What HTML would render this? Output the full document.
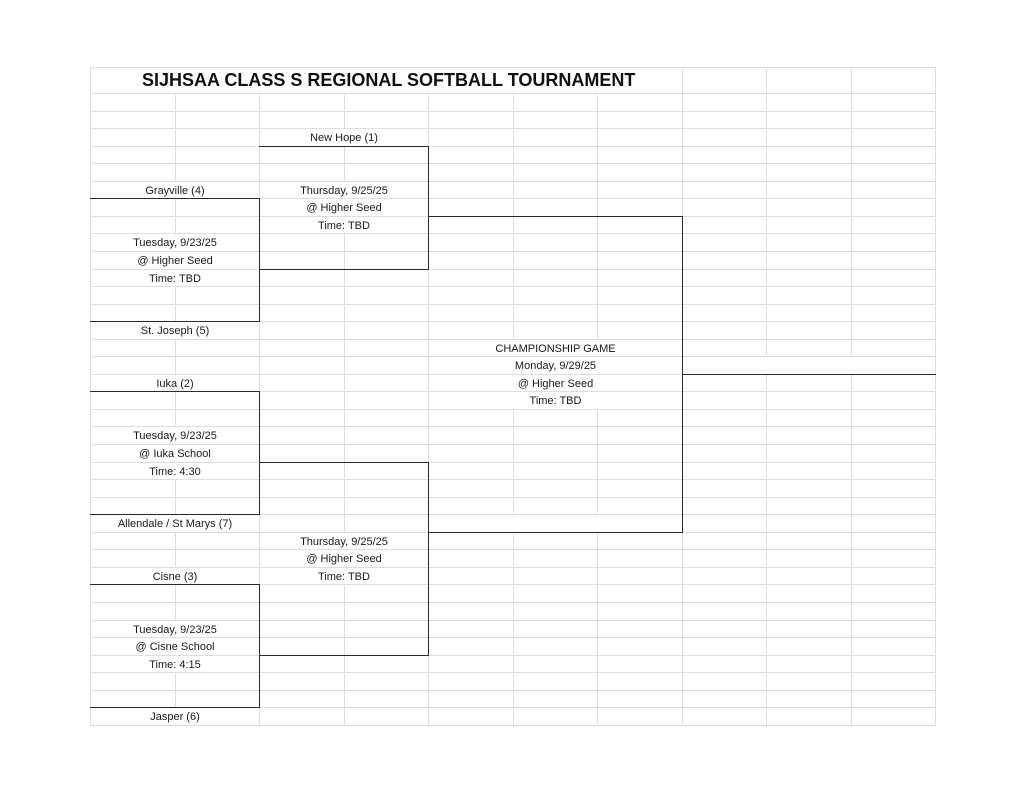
<!DOCTYPE html>
<html><head><meta charset="utf-8"><style>
body{margin:0;width:1024px;height:791px;background:#fff;position:relative;overflow:hidden;font-family:"Liberation Sans",Arial,sans-serif;}
.h{position:absolute;height:1px;background:#dedede;}
.v{position:absolute;width:1px;background:#dedede;}
.c{position:absolute;background:#fff;font-size:11px;color:#1a1a1a;text-align:center;display:flex;align-items:center;justify-content:center;white-space:nowrap;padding-top:1px;box-sizing:border-box;}
.b{position:absolute;background:#2a2a2a;}
.t{position:absolute;left:142px;top:70px;font-size:18px;font-weight:bold;color:#111;}
</style></head><body>
<div id="o"></div>
<div class="t">SIJHSAA CLASS S REGIONAL SOFTBALL TOURNAMENT</div>
<script>
var cols=[90,175,259,344,428,513,597,682,766,851,935];
var R=17.55,T=93;
function y(k){return Math.round(T+R*k);}
var h='';
for(var k=0;k<=36;k++){h+='<div class="h" style="left:90px;width:845px;top:'+y(k)+'px"></div>';}
h+='<div class="h" style="left:90px;width:845px;top:67px"></div>';
for(var i=0;i<cols.length;i++){h+='<div class="v" style="left:'+cols[i]+'px;top:67px;height:659px"></div>';}
h+='<div class="c" style="left:91px;top:68px;width:590px;height:25px"></div>';
function cell(k,c0,c1,txt){var l=cols[c0],r=cols[c1];h+='<div class="c" style="left:'+(l+1)+'px;top:'+(y(k)+1)+'px;width:'+(r-l-1)+'px;height:'+(y(k+1)-y(k)-1)+'px">'+(txt||'')+'</div>';}
var L=[[5,'Grayville (4)'],[8,'Tuesday, 9/23/25'],[9,'@ Higher Seed'],[10,'Time: TBD'],[13,'St. Joseph (5)'],[16,'Iuka (2)'],[19,'Tuesday, 9/23/25'],[20,'@ Iuka School'],[21,'Time: 4:30'],[24,'Allendale / St Marys (7)'],[27,'Cisne (3)'],[30,'Tuesday, 9/23/25'],[31,'@ Cisne School'],[32,'Time: 4:15'],[35,'Jasper (6)']];
L.forEach(function(a){cell(a[0],0,2,a[1]);});
var M=[[2,'New Hope (1)'],[5,'Thursday, 9/25/25'],[6,'@ Higher Seed'],[7,'Time: TBD'],[25,'Thursday, 9/25/25'],[26,'@ Higher Seed'],[27,'Time: TBD']];
M.forEach(function(a){cell(a[0],2,4,a[1]);});
var C=[[14,'CHAMPIONSHIP GAME'],[15,'Monday, 9/29/25'],[16,'@ Higher Seed'],[17,'Time: TBD'],[24,'']];
C.forEach(function(a){cell(a[0],4,7,a[1]);});
cell(15,7,10,'');
function hl(k,x0,x1){h+='<div class="b" style="left:'+x0+'px;top:'+y(k)+'px;width:'+(x1-x0+1)+'px;height:1px"></div>';}
function vl(x,k0,k1){h+='<div class="b" style="left:'+x+'px;top:'+y(k0)+'px;width:1px;height:'+(y(k1)-y(k0)+1)+'px"></div>';}
hl(3,259,428);hl(6,90,259);hl(13,90,259);vl(259,6,13);hl(10,259,428);vl(428,3,10);
hl(7,428,682);hl(25,428,682);vl(682,7,25);hl(16,682,935);
hl(17,90,259);hl(24,90,259);vl(259,17,24);hl(21,259,428);vl(428,21,32);hl(32,259,428);
hl(28,90,259);hl(35,90,259);vl(259,28,35);
document.getElementById('o').innerHTML=h;
</script>
</body></html>
